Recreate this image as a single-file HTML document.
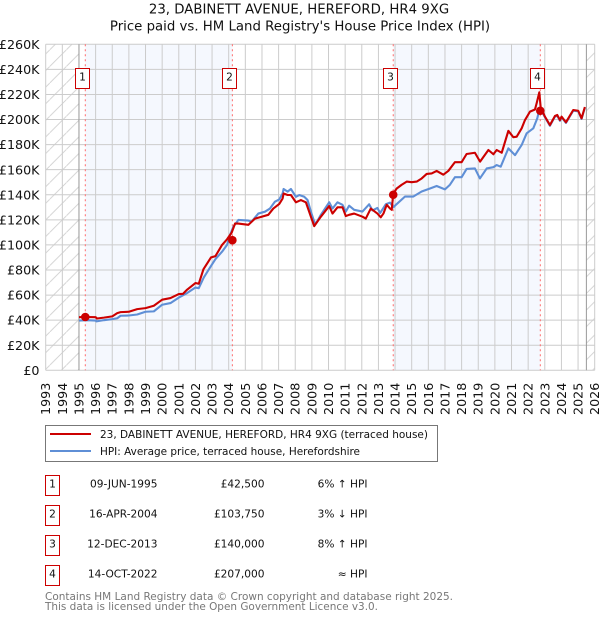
<!DOCTYPE html>
<html>
<head>
<meta charset="utf-8">
<style>
html,body{margin:0;padding:0;background:#fff;width:600px;height:620px;overflow:hidden}
svg{display:block;font-family:"DejaVu Sans","Liberation Sans",sans-serif}
</style>
</head>
<body>
<svg id="chart" xmlns="http://www.w3.org/2000/svg" width="600" height="620" viewBox="0 0 600 620">
  <defs>
    <pattern id="hatch" patternUnits="userSpaceOnUse" width="16.6" height="16.6">
      <line x1="0" y1="16.6" x2="16.6" y2="0" stroke="#ccc" stroke-width="0.8"/>
    </pattern>
  </defs>
  <text x="299" y="13.5" font-size="13.3" text-anchor="middle" fill="#111">23, DABINETT AVENUE, HEREFORD, HR4 9XG</text>
  <text x="300" y="30.5" font-size="13.3" text-anchor="middle" fill="#111">Price paid vs. HM Land Registry's House Price Index (HPI)</text>
  <g id="bands"></g>
  <g id="hatches"></g>
  <g id="grid"></g>
  <g id="saleLines"></g>
  <g id="series"></g>
  <g id="saleMarkers"></g>
  <g id="saleBoxes"></g>
  <g id="yAxis"></g>
  <g id="xAxis"></g>

  <g>
    <rect x="45.5" y="425.5" width="392" height="36" fill="#fff" stroke="#777" stroke-width="1"/>
    <line x1="50" y1="434" x2="91" y2="434" stroke="#cc0000" stroke-width="2"/>
    <text x="100" y="438" font-size="10.7" fill="#111" textLength="328" lengthAdjust="spacingAndGlyphs">23, DABINETT AVENUE, HEREFORD, HR4 9XG (terraced house)</text>
    <line x1="50" y1="451" x2="91" y2="451" stroke="#5f8fd6" stroke-width="2"/>
    <text x="100" y="455" font-size="10.7" fill="#111" textLength="260" lengthAdjust="spacingAndGlyphs">HPI: Average price, terraced house, Herefordshire</text>
  </g>

  <g font-size="10.6" fill="#111">
    <g>
      <rect x="45.5" y="475.5" width="14" height="20" fill="#fff" stroke="#cc0000"/>
      <text x="52.5" y="487.3" text-anchor="middle">1</text>
      <text x="157.5" y="487.3" text-anchor="end">09-JUN-1995</text>
      <text x="264.5" y="487.3" text-anchor="end">£42,500</text>
      <text x="367.5" y="487.3" text-anchor="end">6% ↑ HPI</text>
    </g>
    <g>
      <rect x="45.5" y="505.5" width="14" height="20" fill="#fff" stroke="#cc0000"/>
      <text x="52.5" y="517.3" text-anchor="middle">2</text>
      <text x="157.5" y="517.3" text-anchor="end">16-APR-2004</text>
      <text x="264.5" y="517.3" text-anchor="end">£103,750</text>
      <text x="367.5" y="517.3" text-anchor="end">3% ↓ HPI</text>
    </g>
    <g>
      <rect x="45.5" y="535.5" width="14" height="20" fill="#fff" stroke="#cc0000"/>
      <text x="52.5" y="547.3" text-anchor="middle">3</text>
      <text x="157.5" y="547.3" text-anchor="end">12-DEC-2013</text>
      <text x="264.5" y="547.3" text-anchor="end">£140,000</text>
      <text x="367.5" y="547.3" text-anchor="end">8% ↑ HPI</text>
    </g>
    <g>
      <rect x="45.5" y="565.5" width="14" height="20" fill="#fff" stroke="#cc0000"/>
      <text x="52.5" y="577.3" text-anchor="middle">4</text>
      <text x="157.5" y="577.3" text-anchor="end">14-OCT-2022</text>
      <text x="264.5" y="577.3" text-anchor="end">£207,000</text>
      <text x="367.5" y="577.3" text-anchor="end">≈ HPI</text>
    </g>
  </g>

  <text x="45" y="600" font-size="11" fill="#777" textLength="408" lengthAdjust="spacingAndGlyphs">Contains HM Land Registry data © Crown copyright and database right 2025.</text>
  <text x="45" y="610" font-size="11" fill="#777" textLength="333" lengthAdjust="spacingAndGlyphs">This data is licensed under the Open Government Licence v3.0.</text>
</svg>

<script>
var xTickYears = [1993,1994,1995,1996,1997,1998,1999,2000,2001,2002,2003,2004,2005,2006,2007,2008,2009,2010,2011,2012,2013,2014,2015,2016,2017,2018,2019,2020,2021,2022,2023,2024,2025,2026];
var yTickValues = [0,20,40,60,80,100,120,140,160,180,200,220,240,260];
var yTickLabels = ['£0','£20K','£40K','£60K','£80K','£100K','£120K','£140K','£160K','£180K','£200K','£220K','£240K','£260K'];

var dataStart = 1995.0;
var dataEnd = 2025.5;

var saleDates = [1995.38, 2004.22, 2013.89, 2022.73];
var salePrices = [42.5, 103.75, 140, 207];
var saleNumbers = ['1','2','3','4'];

var priceDates = [1995,1995.44,1996,1996.08,1996.5,1997,1997.3,1997.5,1998,1998.5,1999,1999.5,2000,2000.5,2001,2001.25,2001.5,2002,2002.2,2002.48,2002.94,2003.2,2003.6,2003.9,2004.18,2004.38,2004.58,2005.18,2005.58,2005.98,2006.38,2006.68,2007.04,2007.24,2007.3,2007.54,2007.74,2008.04,2008.34,2008.64,2008.94,2009.14,2009.54,2010.04,2010.24,2010.54,2010.84,2011.04,2011.24,2011.54,2012.04,2012.24,2012.54,2012.94,2013.14,2013.3,2013.5,2013.7,2013.8,2013.89,2014.1,2014.4,2014.7,2015,2015.3,2015.6,2015.9,2016.2,2016.5,2016.9,2017.2,2017.6,2018,2018.3,2018.8,2019.11,2019.61,2019.91,2020.11,2020.41,2020.81,2021.11,2021.31,2021.61,2021.81,2022.11,2022.41,2022.51,2022.67,2022.75,2023.01,2023.31,2023.61,2023.75,2023.91,2024.01,2024.27,2024.71,2025.01,2025.21,2025.41];
var priceValues = [42.4,42.5,42.4,41.3,42,43,45.6,46.4,46.7,48.8,49.6,51.5,56.3,57.6,60.8,61,64.3,69.6,69,80.5,90.1,91,100,104.5,109.8,117,117,116,121,122.5,124,129,132.7,137,141,139.8,139.8,134,135.8,134,122.5,115,122.5,131,125,130,130,123,124,125,122.5,121,129,125,122,125,132,129,128,141,145,148,150.5,150,150.5,153,156.6,157,159,156,159,166,166,172.5,173.5,166.4,175.7,172.3,175.7,173.5,191,185.9,186.3,193,199.6,206.3,208,213,221.7,210,202.3,195.6,202.8,203.6,199.6,202.3,197.8,207.6,207,201,210];

var hpiDates = [1995,1995.5,1996,1996.05,1996.5,1997,1997.3,1997.5,1998,1998.5,1999,1999.5,2000,2000.5,2001,2001.5,2002,2002.2,2002.5,2002.88,2003.2,2003.6,2003.9,2004.08,2004.28,2004.58,2005.18,2005.38,2005.78,2006.18,2006.48,2006.78,2007.04,2007.24,2007.3,2007.54,2007.74,2008.04,2008.24,2008.54,2008.74,2008.94,2009.14,2009.24,2009.54,2010.04,2010.24,2010.54,2010.84,2011.04,2011.24,2011.54,2012.04,2012.44,2012.64,2012.94,2013.1,2013.44,2013.7,2013.9,2014.1,2014.6,2015.1,2015.6,2016.1,2016.5,2017,2017.3,2017.6,2018,2018.3,2018.8,2019.1,2019.51,2019.91,2020.11,2020.35,2020.81,2021.21,2021.61,2021.91,2022.31,2022.55,2022.67,2022.8,2023.01,2023.31,2023.61,2023.75,2023.91,2024.01,2024.27,2024.71,2025.01,2025.21,2025.41];
var hpiValues = [39.7,40,39.7,39,40,40.8,41.5,43.5,43.7,44.5,46.7,47,52.3,53.6,58,61.6,66,65.5,74,82,88.6,94.6,100,107.9,114.6,119.9,119.4,118.6,125,126.5,129,134.5,136.3,141,144.6,142.5,144.6,138.4,139.8,138.4,135.8,126.6,118.5,117,124,134,129,134,132,126.6,131.3,128,126.6,132.4,127.5,129.5,125.4,132.4,133.7,130,132.6,138.6,138.6,142.6,145,147,144.3,148,154,154,160.6,161,153,161,162,163.7,162.4,177,171.6,179.7,189,193,201,208,207,201.8,195,202.3,203,199,201.8,197.3,207,206.5,200.5,209.5];

var svg = document.getElementById('chart');
var NS = 'http://www.w3.org/2000/svg';
var plotLeft = 45.7, plotRight = 594.7, plotTop = 44.3, plotBottom = 370.3;
var axisMinYear = 1993, axisMaxYear = 2026, axisMaxValue = 260;

function xScale(t) {
  return plotLeft + (t - axisMinYear) * (plotRight - plotLeft) / (axisMaxYear - axisMinYear);
}
function yScale(v) {
  return plotBottom - v * (plotBottom - plotTop) / axisMaxValue;
}
function make(tag, parentId, attrs) {
  var node = document.createElementNS(NS, tag);
  for (var k in attrs) { node.setAttribute(k, attrs[k]); }
  document.getElementById(parentId).appendChild(node);
  return node;
}

// shaded periods between sales
[[0,1],[2,3]].forEach(function (pair, i) {
  var band = make('rect', 'bands', {x: xScale(saleDates[pair[0]]), y: plotTop, width: xScale(saleDates[pair[1]]) - xScale(saleDates[pair[0]]), height: plotBottom - plotTop, fill: '#f5f8fe'});
  
  
});

// hatching outside the data range
var hatchLeft = make('rect', 'hatches', {x: plotLeft, y: plotTop, width: xScale(dataStart) - plotLeft, height: plotBottom - plotTop, fill: 'url(#hatch)'});


var hatchRight = make('rect', 'hatches', {x: xScale(dataEnd), y: plotTop, width: plotRight - xScale(dataEnd), height: plotBottom - plotTop, fill: 'url(#hatch)'});



// grid and tick labels
yTickValues.forEach(function (v, i) {
  var gy = yScale(v);
  var line = make('line', 'grid', {x1: plotLeft, x2: plotRight, y1: gy, y2: gy, stroke: '#ccc', 'stroke-width': 1});
  
  
  var label = make('text', 'yAxis', {x: 39.5, y: gy + 4.6, 'font-size': 12.7, 'text-anchor': 'end', fill: '#111'});
  label.textContent = yTickLabels[i];
  
  
});
xTickYears.forEach(function (yr) {
  var gx = xScale(yr);
  var line = make('line', 'grid', {x1: gx, x2: gx, y1: plotTop, y2: plotBottom, stroke: '#ccc', 'stroke-width': 1});
  
  
  var label = make('text', 'xAxis', {x: 0, y: 0, 'font-size': 12.7, 'text-anchor': 'end', fill: '#111', transform: 'translate(' + (gx + 4.5) + ',382.7) rotate(-90)'});
  label.textContent = String(yr);
  
  
});

// data range limits
[dataStart, dataEnd].forEach(function (t) {
  var edge = make('line', 'grid', {x1: xScale(t), x2: xScale(t), y1: plotTop, y2: plotBottom, stroke: '#999', 'stroke-width': 1});
  
  
});

// sale date lines
saleDates.forEach(function (t) {
  var sl = make('line', 'saleLines', {x1: xScale(t), x2: xScale(t), y1: plotTop, y2: plotBottom, stroke: '#ff6b6b', 'stroke-width': 1, 'stroke-dasharray': '2,3'});
  
  
});

// series
function pathFrom(dates, values) {
  return dates.map(function (t, i) {
    return (i ? 'L' : 'M') + xScale(t).toFixed(2) + ' ' + yScale(values[i]).toFixed(2);
  }).join(' ');
}
var hpiLine = make('path', 'series', {d: pathFrom(hpiDates, hpiValues), fill: 'none', stroke: '#5f8fd6', 'stroke-width': 2.1, 'stroke-linejoin': 'round'});


var priceLine = make('path', 'series', {d: pathFrom(priceDates, priceValues), fill: 'none', stroke: '#cc0000', 'stroke-width': 2.1, 'stroke-linejoin': 'round'});



// sale markers and number boxes
saleDates.forEach(function (t, i) {
  var mx = xScale(t), my = yScale(salePrices[i]);
  var dot = make('circle', 'saleMarkers', {cx: mx, cy: my, r: 4.3, fill: '#cc0000'});
  
  
  var box = make('rect', 'saleBoxes', {x: Math.round(mx - 10) + 0.5, y: 68.5, width: 14, height: 20, fill: '#fff', stroke: '#cc0000', 'stroke-width': 1});
  
  
  var num = make('text', 'saleBoxes', {x: Math.round(mx - 10) + 7.5, y: 80.3, 'font-size': 10.6, 'text-anchor': 'middle', fill: '#111'});
  num.textContent = saleNumbers[i];
  
  
});
</script>
</body>
</html>
